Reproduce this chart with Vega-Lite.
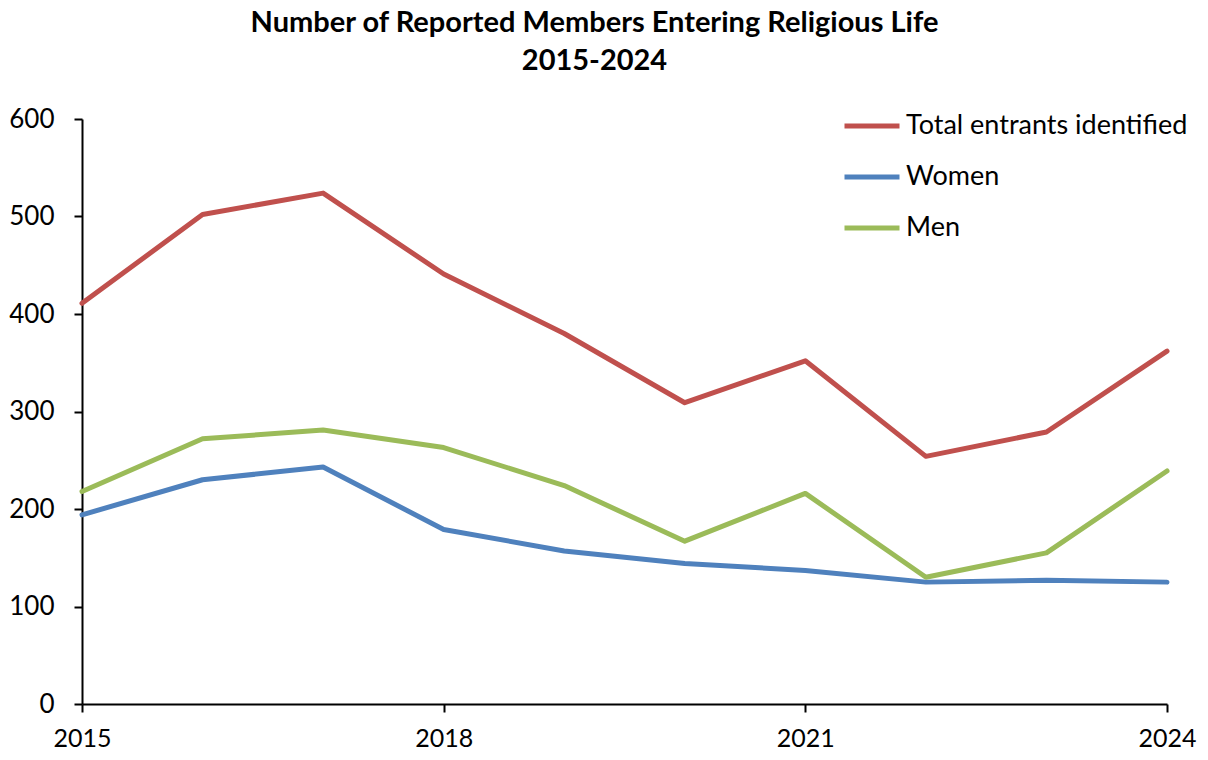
{
  "$schema": "https://vega.github.io/schema/vega-lite/v6.json",
  "width": 1085,
  "height": 585,
  "autosize": "none",
  "padding": {"left": 82, "top": 119, "right": 41, "bottom": 56},
  "background": "white",
  "title": {
    "text": ["Number of Reported Members Entering Religious Life", "2015-2024"],
    "anchor": "middle",
    "frame": "group",
    "font": "Lato",
    "fontSize": 29,
    "fontWeight": "bold",
    "color": "black",
    "lineHeight": 38,
    "offset": 20,
    "dx": -30
  },
  "data": {
    "values": [
      {"year": 2015, "series": "Total entrants identified", "value": 411},
      {"year": 2016, "series": "Total entrants identified", "value": 502},
      {"year": 2017, "series": "Total entrants identified", "value": 524},
      {"year": 2018, "series": "Total entrants identified", "value": 441},
      {"year": 2019, "series": "Total entrants identified", "value": 380},
      {"year": 2020, "series": "Total entrants identified", "value": 309},
      {"year": 2021, "series": "Total entrants identified", "value": 352},
      {"year": 2022, "series": "Total entrants identified", "value": 254},
      {"year": 2023, "series": "Total entrants identified", "value": 279},
      {"year": 2024, "series": "Total entrants identified", "value": 362},
      {"year": 2015, "series": "Women", "value": 194},
      {"year": 2016, "series": "Women", "value": 230},
      {"year": 2017, "series": "Women", "value": 243},
      {"year": 2018, "series": "Women", "value": 179},
      {"year": 2019, "series": "Women", "value": 157},
      {"year": 2020, "series": "Women", "value": 144},
      {"year": 2021, "series": "Women", "value": 137},
      {"year": 2022, "series": "Women", "value": 125},
      {"year": 2023, "series": "Women", "value": 127},
      {"year": 2024, "series": "Women", "value": 125},
      {"year": 2015, "series": "Men", "value": 218},
      {"year": 2016, "series": "Men", "value": 272},
      {"year": 2017, "series": "Men", "value": 281},
      {"year": 2018, "series": "Men", "value": 263},
      {"year": 2019, "series": "Men", "value": 224},
      {"year": 2020, "series": "Men", "value": 167},
      {"year": 2021, "series": "Men", "value": 216},
      {"year": 2022, "series": "Men", "value": 130},
      {"year": 2023, "series": "Men", "value": 155},
      {"year": 2024, "series": "Men", "value": 239}
    ]
  },
  "mark": {"type": "line", "strokeWidth": 5, "strokeCap": "round", "strokeJoin": "round"},
  "encoding": {
    "x": {
      "field": "year",
      "type": "quantitative",
      "scale": {"domain": [2015, 2024], "nice": false, "zero": false},
      "axis": {
        "title": null,
        "values": [2015, 2018, 2021, 2024],
        "format": "d",
        "grid": false,
        "domainColor": "black",
        "domainWidth": 2,
        "tickColor": "black",
        "tickWidth": 2,
        "tickSize": 8,
        "labelFont": "Lato",
        "labelFontSize": 25,
        "labelColor": "black",
        "labelPadding": 14,
        "labelFlush": false
      }
    },
    "y": {
      "field": "value",
      "type": "quantitative",
      "scale": {"domain": [0, 600], "nice": false},
      "axis": {
        "title": null,
        "values": [0, 100, 200, 300, 400, 500, 600],
        "grid": false,
        "domainColor": "black",
        "domainWidth": 2,
        "tickColor": "black",
        "tickWidth": 2,
        "tickSize": 8,
        "labelFont": "Lato",
        "labelFontSize": 26,
        "labelColor": "black",
        "labelPadding": 20
      }
    },
    "color": {
      "field": "series",
      "type": "nominal",
      "scale": {
        "domain": ["Total entrants identified", "Women", "Men"],
        "range": ["#C0504D", "#4F81BD", "#9BBB59"]
      },
      "legend": {
        "title": null,
        "orient": "none",
        "legendX": 760,
        "legendY": -23,
        "symbolType": "stroke",
        "symbolSize": 3025,
        "symbolStrokeWidth": 5,
        "labelFont": "Lato",
        "labelFontSize": 27,
        "labelColor": "black",
        "labelOffset": 4,
        "rowPadding": 8,
        "labelLimit": 400
      }
    }
  },
  "config": {"view": {"stroke": null}}
}
